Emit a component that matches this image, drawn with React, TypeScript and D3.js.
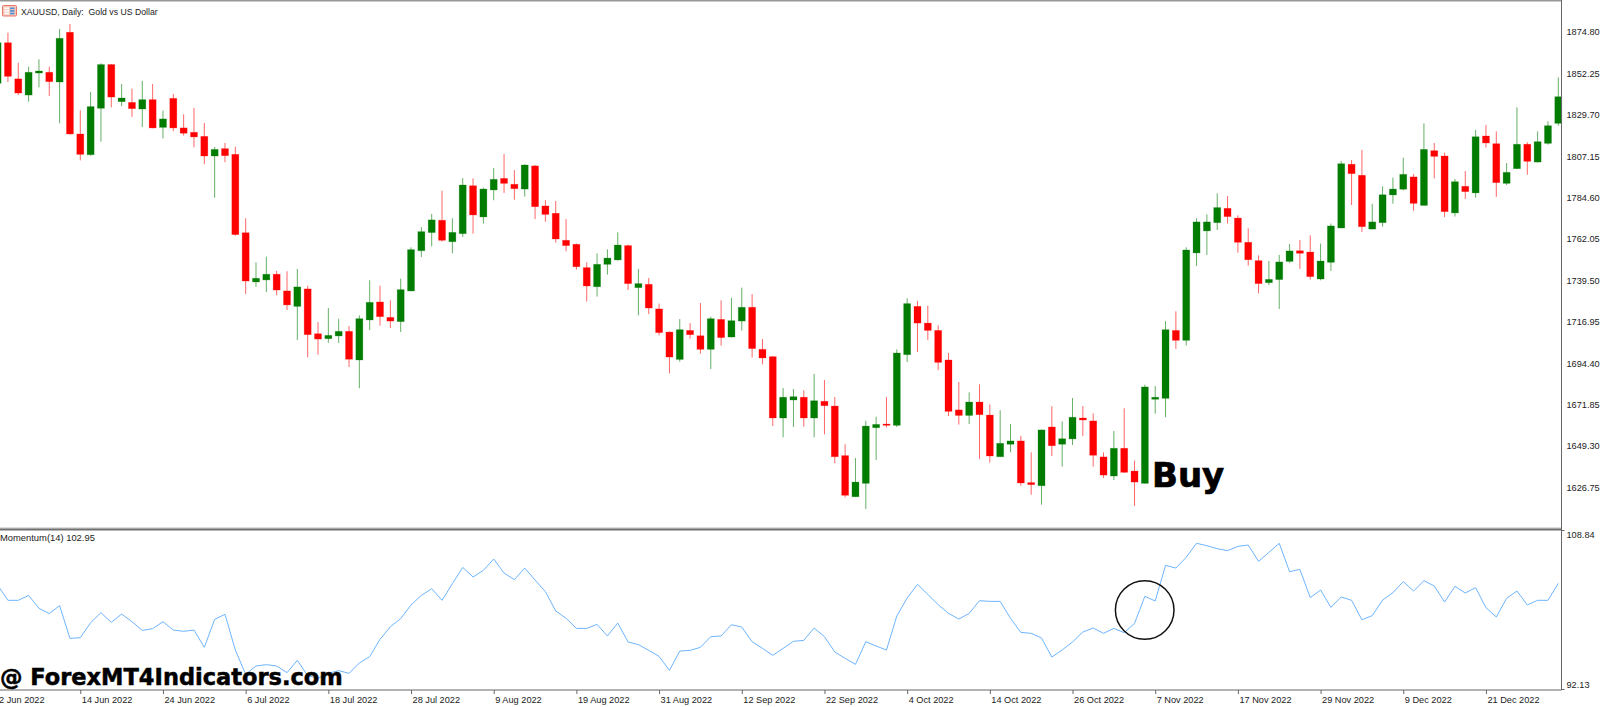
import { useEffect, useRef } from "react";
import * as d3 from "d3";

const W = 1600;
const H = 707;

// daily candles
const opens = [
  1846.8, 1868.9, 1849.2, 1840.4, 1852.4, 1852.8, 1847.5, 1874.6, 1819.2, 1807.9,
  1833.2, 1857.0, 1836.8, 1836.4, 1832.8, 1837.9, 1822.8, 1838.6, 1822.5, 1820.1,
  1817.9, 1807.2, 1811.2, 1808.1, 1765.4, 1738.6, 1739.7, 1742.8, 1733.7, 1725.3,
  1734.8, 1710.4, 1707.7, 1709.2, 1711.7, 1696.1, 1717.9, 1727.7, 1719.3, 1717.0,
  1733.7, 1755.6, 1765.5, 1772.2, 1760.5, 1764.9, 1791.0, 1774.0, 1788.7, 1795.0,
  1791.8, 1789.2, 1801.8, 1780.0, 1776.0, 1761.3, 1759.1, 1746.4, 1736.0, 1748.2,
  1750.6, 1758.4, 1735.5, 1737.3, 1723.9, 1711.3, 1696.4, 1712.2, 1709.3, 1701.9,
  1718.2, 1708.6, 1717.3, 1724.8, 1701.9, 1697.9, 1664.5, 1674.3, 1675.8, 1664.5,
  1673.6, 1671.0, 1644.0, 1621.6, 1628.9, 1659.2, 1661.2, 1660.5, 1699.0, 1725.3,
  1716.2, 1712.2, 1696.1, 1668.9, 1665.9, 1673.2, 1666.1, 1643.4, 1650.2, 1652.0,
  1629.3, 1627.6, 1659.6, 1650.2, 1653.1, 1664.5, 1662.9, 1643.3, 1632.9, 1648.0,
  1635.6, 1628.9, 1674.7, 1675.2, 1712.2, 1706.8, 1754.4, 1766.4, 1770.9, 1778.7,
  1773.4, 1760.2, 1750.2, 1738.2, 1739.9, 1749.8, 1755.6, 1754.9, 1740.2, 1749.3,
  1768.0, 1802.7, 1796.7, 1767.4, 1770.9, 1786.0, 1789.1, 1795.8, 1780.3, 1810.1,
  1807.2, 1776.2, 1790.7, 1787.1, 1818.1, 1813.9, 1792.3, 1800.3, 1813.6, 1803.9,
  1814.1, 1825.0,
];
const highs = [
  1871.3, 1874.4, 1858.0, 1855.9, 1859.9, 1855.9, 1876.4, 1879.1, 1832.1, 1842.1,
  1857.7, 1857.3, 1846.4, 1843.9, 1848.1, 1846.4, 1831.9, 1841.0, 1829.9, 1833.4,
  1825.2, 1812.1, 1814.3, 1812.3, 1773.3, 1749.3, 1752.4, 1744.6, 1744.4, 1745.7,
  1736.6, 1716.8, 1724.4, 1718.6, 1714.6, 1720.4, 1739.5, 1736.6, 1728.6, 1740.4,
  1757.5, 1768.4, 1775.6, 1788.3, 1773.3, 1795.2, 1795.0, 1790.0, 1800.7, 1808.3,
  1799.6, 1802.7, 1802.3, 1783.2, 1782.7, 1772.9, 1759.5, 1749.3, 1754.2, 1756.4,
  1765.6, 1758.9, 1745.7, 1740.8, 1726.8, 1711.7, 1718.4, 1716.2, 1727.1, 1719.7,
  1728.6, 1729.9, 1735.5, 1732.0, 1707.5, 1698.3, 1680.8, 1680.3, 1679.6, 1688.5,
  1685.2, 1675.9, 1650.2, 1642.7, 1663.0, 1665.2, 1675.9, 1701.9, 1729.7, 1728.2,
  1725.7, 1715.0, 1699.9, 1684.1, 1678.5, 1682.8, 1671.9, 1668.7, 1661.2, 1654.7,
  1645.8, 1658.1, 1670.9, 1662.7, 1675.4, 1671.0, 1667.0, 1645.8, 1657.4, 1669.8,
  1641.3, 1682.7, 1681.9, 1717.2, 1722.6, 1757.5, 1773.3, 1775.4, 1786.9, 1785.4,
  1774.9, 1767.8, 1753.1, 1750.0, 1753.3, 1759.3, 1761.5, 1764.0, 1759.5, 1770.4,
  1804.5, 1805.0, 1810.5, 1781.2, 1790.7, 1795.4, 1806.3, 1797.4, 1825.0, 1814.3,
  1809.0, 1794.7, 1799.0, 1821.4, 1824.1, 1820.6, 1803.4, 1833.7, 1814.7, 1820.6,
  1826.1, 1850.1,
];
const lows = [
  1844.6, 1847.5, 1840.4, 1836.8, 1844.6, 1839.9, 1825.0, 1818.8, 1804.8, 1807.4,
  1815.0, 1833.7, 1834.4, 1828.5, 1823.0, 1822.3, 1816.8, 1820.8, 1818.3, 1811.9,
  1802.7, 1784.5, 1803.8, 1763.8, 1732.0, 1736.0, 1733.1, 1731.3, 1723.3, 1707.0,
  1697.5, 1699.0, 1705.5, 1705.4, 1692.3, 1680.7, 1712.4, 1714.8, 1713.5, 1711.3,
  1733.5, 1752.2, 1758.0, 1760.5, 1754.2, 1763.1, 1764.9, 1770.4, 1783.1, 1787.1,
  1783.4, 1785.1, 1772.9, 1771.4, 1760.0, 1755.3, 1745.3, 1727.9, 1730.6, 1742.6,
  1750.2, 1734.2, 1720.4, 1721.1, 1709.5, 1688.8, 1695.2, 1707.7, 1699.5, 1691.2,
  1703.9, 1708.4, 1712.1, 1697.4, 1693.7, 1660.1, 1654.0, 1659.6, 1659.8, 1654.0,
  1655.6, 1639.8, 1621.3, 1621.5, 1614.9, 1641.6, 1659.4, 1659.6, 1695.0, 1700.4,
  1707.0, 1690.6, 1665.6, 1660.9, 1661.2, 1642.2, 1640.2, 1643.3, 1645.8, 1627.6,
  1622.7, 1617.3, 1643.8, 1638.0, 1649.8, 1654.7, 1638.0, 1631.8, 1630.7, 1634.7,
  1616.6, 1628.8, 1666.9, 1664.9, 1702.1, 1703.9, 1747.3, 1753.3, 1766.9, 1770.4,
  1754.6, 1747.5, 1732.4, 1736.9, 1723.9, 1749.1, 1745.7, 1739.9, 1739.5, 1744.6,
  1767.8, 1780.5, 1765.8, 1767.3, 1768.7, 1781.2, 1788.5, 1777.4, 1780.2, 1795.0,
  1774.0, 1774.2, 1783.8, 1784.5, 1811.8, 1784.9, 1791.4, 1800.1, 1797.0, 1803.7,
  1813.4, 1823.7,
];
const closes = [
  1868.9, 1850.6, 1841.5, 1852.8, 1853.5, 1847.7, 1871.3, 1819.2, 1808.1, 1834.1,
  1857.0, 1839.3, 1838.8, 1833.0, 1837.9, 1822.5, 1827.4, 1822.5, 1819.6, 1817.6,
  1807.2, 1810.8, 1807.4, 1764.4, 1739.1, 1740.6, 1742.8, 1734.2, 1726.1, 1735.9,
  1709.9, 1707.5, 1709.5, 1711.7, 1696.5, 1718.6, 1727.5, 1719.7, 1717.3, 1734.4,
  1756.2, 1766.0, 1772.4, 1761.3, 1765.6, 1791.4, 1775.1, 1789.2, 1794.5, 1792.3,
  1789.4, 1802.3, 1779.6, 1775.4, 1762.0, 1758.4, 1746.9, 1736.4, 1748.2, 1751.6,
  1758.7, 1737.7, 1737.7, 1724.4, 1711.0, 1697.7, 1712.6, 1709.9, 1701.9, 1718.6,
  1708.3, 1717.5, 1724.8, 1702.3, 1697.2, 1664.5, 1675.8, 1676.1, 1664.5, 1673.9,
  1671.2, 1643.4, 1622.4, 1629.6, 1660.1, 1661.0, 1660.5, 1699.9, 1726.8, 1716.2,
  1712.2, 1694.8, 1668.1, 1665.9, 1673.2, 1666.3, 1643.8, 1650.7, 1652.0, 1629.1,
  1628.2, 1658.0, 1649.4, 1653.2, 1664.9, 1663.4, 1644.2, 1633.4, 1648.0, 1634.9,
  1629.6, 1681.4, 1675.8, 1712.6, 1706.8, 1756.0, 1771.3, 1771.3, 1779.1, 1774.2,
  1760.2, 1750.7, 1737.7, 1740.0, 1749.5, 1755.5, 1754.2, 1741.5, 1750.0, 1769.1,
  1803.0, 1797.6, 1768.7, 1771.3, 1786.1, 1789.2, 1797.2, 1781.4, 1810.8, 1807.0,
  1776.9, 1793.2, 1787.8, 1817.7, 1814.3, 1792.7, 1798.3, 1813.6, 1804.3, 1815.0,
  1823.7, 1839.5,
];

const momentum = [
  103.06, 101.45, 101.45, 101.97, 100.61, 100.05, 100.89, 97.45, 97.52, 99.1,
  100.15, 99.13, 100.01, 99.2, 98.29, 98.47, 99.2, 98.33, 98.19, 98.33,
  96.51, 99.45, 99.98, 96.23, 93.67, 94.55, 94.69, 94.55, 93.85, 95.14,
  93.53, 93.25, 93.78, 94.06, 93.78, 94.86, 95.53, 97.35, 98.68, 99.52,
  100.96, 101.97, 102.67, 101.45, 103.2, 104.91, 103.9, 104.6, 105.79, 104.32,
  103.62, 104.84, 103.58, 102.36, 100.33, 99.56, 98.5, 98.5, 98.92, 97.7,
  99.06, 97.07, 96.79, 96.19, 95.56, 94.09, 96.12, 96.19, 96.51, 97.63,
  97.7, 98.89, 98.64, 97.1, 96.4, 95.67, 96.4, 97.14, 97.24, 98.54,
  97.63, 96.02, 95.35, 94.72, 97.1, 96.65, 96.23, 99.8, 101.69, 103.13,
  102.08, 100.99, 100.08, 99.48, 100.08, 101.41, 101.34, 101.34, 99.56, 98.08,
  97.98, 97.49, 95.49, 96.23, 97.07, 98.12, 98.54, 97.98, 98.5, 98.05,
  99.03, 101.87, 101.38, 105.12, 104.84, 105.97, 107.44, 107.19, 106.88, 106.67,
  107.12, 107.26, 105.55, 106.49, 107.44, 104.46, 104.7, 101.73, 102.53, 100.71,
  101.8, 101.45, 99.41, 99.84, 101.48, 102.25, 103.41, 102.43, 103.51, 102.95,
  101.27, 102.92, 102.22, 102.78, 100.68, 99.7, 101.66, 102.43, 100.96, 101.45,
  101.45, 103.23,
];

const priceTicks = [1874.8, 1852.25, 1829.7, 1807.15, 1784.6, 1762.05, 1739.5, 1716.95, 1694.4, 1671.85, 1649.3, 1626.75];
const momentumTicks = [108.84, 92.13];
const dateLabels = [
  "2 Jun 2022", "14 Jun 2022", "24 Jun 2022", "6 Jul 2022", "18 Jul 2022", "28 Jul 2022", "9 Aug 2022",
  "19 Aug 2022", "31 Aug 2022", "12 Sep 2022", "22 Sep 2022", "4 Oct 2022", "14 Oct 2022", "26 Oct 2022",
  "7 Nov 2022", "17 Nov 2022", "29 Nov 2022", "9 Dec 2022", "21 Dec 2022",
];
const BARS_PER_LABEL = 8;

const UP = "#007c00";
const DOWN = "#ff0000";
const AXIS = "#666";
const LABEL_FONT = "'Liberation Sans', Arial, sans-serif";
const BOLD_FONT = "'DejaVu Sans', Verdana, sans-serif";

export default function App() {
  const svgRef = useRef<SVGSVGElement>(null);

  useEffect(() => {
    if (!svgRef.current) return;
    const svg = d3.select(svgRef.current);
    svg.selectAll("*").remove();

    const AXIS_X = 1561.5;
    const x = d3.scaleLinear().domain([0, opens.length - 1]).range([-2.4, 1558.3]);
    const y = d3.scaleLinear().domain([1852.25, 1626.75]).range([73.3, 487.3]);
    const yMom = d3.scaleLinear().domain([108.84, 92.13]).range([530, 689]);

    svg.append("rect").attr("width", W).attr("height", H).attr("fill", "white");

    const bars = d3.range(opens.length);

    // candles
    const candle = svg.append("g").selectAll("g").data(bars).enter().append("g")
      .attr("fill", (i) => (closes[i] >= opens[i] ? UP : DOWN))
      .attr("stroke", (i) => (closes[i] >= opens[i] ? UP : DOWN));
    candle.append("line")
      .attr("x1", (i) => x(i))
      .attr("x2", (i) => x(i))
      .attr("y1", (i) => y(highs[i]))
      .attr("y2", (i) => y(lows[i]))
      .attr("stroke-width", 1)
      .attr("stroke-opacity", 0.6);
    candle.append("rect")
      .attr("x", (i) => x(i) - 3.5)
      .attr("width", 7)
      .attr("y", (i) => y(Math.max(opens[i], closes[i])))
      .attr("height", (i) => Math.max(1, Math.abs(y(opens[i]) - y(closes[i]))))
      .attr("stroke-width", 0.8)
      .attr("stroke-opacity", 0.3);

    // indicator line
    const line = d3.line<number>().x((_, i) => x(i)).y((d) => yMom(d));
    svg.append("path")
      .attr("d", line(momentum))
      .attr("fill", "none")
      .attr("stroke", "#6db5ff")
      .attr("stroke-width", 1);

    svg.append("circle")
      .attr("cx", 1144.7)
      .attr("cy", 610)
      .attr("r", 29.3)
      .attr("fill", "none")
      .attr("stroke", "#111")
      .attr("stroke-width", 1.5);

    // frame lines
    svg.append("rect").attr("width", AXIS_X).attr("height", 1.5).attr("fill", "#999");
    svg.append("rect").attr("y", 527.5).attr("width", AXIS_X).attr("height", 1).attr("fill", "#bbb");
    svg.append("rect").attr("y", 528.5).attr("width", AXIS_X).attr("height", 2).attr("fill", "#707070");

    // price axis
    const priceAxis = d3.axisRight(y)
      .tickValues(priceTicks)
      .tickSize(0)
      .tickPadding(5)
      .tickFormat((d) => (d as number).toFixed(2));
    const gPrice = svg.append("g").attr("transform", `translate(${AXIS_X},0)`).call(priceAxis);
    gPrice.select(".domain").remove();
    gPrice.selectAll("text")
      .attr("font-family", LABEL_FONT)
      .attr("font-size", 9.2)
      .attr("fill", "#222");

    svg.append("line")
      .attr("x1", AXIS_X).attr("x2", AXIS_X)
      .attr("y1", 0).attr("y2", 690)
      .attr("stroke", AXIS);

    // momentum axis, labels pulled inside the pane
    const momAxis = d3.axisRight(yMom)
      .tickValues(momentumTicks)
      .tickSize(3)
      .tickPadding(2)
      .tickFormat((d) => (d as number).toFixed(2));
    const gMom = svg.append("g").attr("transform", `translate(${AXIS_X},0)`).call(momAxis);
    gMom.select(".domain").remove();
    gMom.selectAll("line").attr("stroke", AXIS);
    gMom.selectAll("text")
      .attr("font-family", LABEL_FONT)
      .attr("font-size", 9.2)
      .attr("fill", "#222")
      .attr("y", (d) => ((d as number) > 100 ? 5 : -4));

    // time axis
    const timeAxis = d3.axisBottom(x)
      .tickValues(dateLabels.map((_, i) => i * BARS_PER_LABEL))
      .tickSize(4)
      .tickPadding(2)
      .tickFormat((d) => dateLabels[(d as number) / BARS_PER_LABEL]);
    const gTime = svg.append("g").attr("transform", "translate(0,690)").call(timeAxis);
    gTime.select(".domain").remove();
    gTime.selectAll("line").attr("stroke", AXIS);
    gTime.selectAll("text")
      .attr("font-family", LABEL_FONT)
      .attr("font-size", 9.2)
      .attr("fill", "#222")
      .attr("text-anchor", "start")
      .attr("x", 1)
      .attr("y", 6);
    svg.append("line")
      .attr("x1", 0).attr("x2", AXIS_X)
      .attr("y1", 690).attr("y2", 690)
      .attr("stroke", AXIS);

    // title row with the little table icon
    const icon = svg.append("g").attr("transform", "translate(2.5,5.5)");
    icon.append("rect").attr("width", 14).attr("height", 10.5).attr("rx", 1)
      .attr("fill", "#f6c9bd").attr("stroke", "#e8776a");
    icon.append("rect").attr("x", 2).attr("y", 2).attr("width", 4.5).attr("height", 1.6).attr("fill", "#fff");
    icon.append("rect").attr("x", 2).attr("y", 4.6).attr("width", 4.5).attr("height", 1.6).attr("fill", "#fff");
    icon.append("rect").attr("x", 2).attr("y", 7.2).attr("width", 4.5).attr("height", 1.6).attr("fill", "#fff");
    icon.append("rect").attr("x", 7.5).attr("y", 2).attr("width", 4.5).attr("height", 1.6).attr("fill", "#4a90d9");
    icon.append("rect").attr("x", 7.5).attr("y", 4.6).attr("width", 4.5).attr("height", 1.6).attr("fill", "#4a90d9");
    icon.append("rect").attr("x", 7.5).attr("y", 7.2).attr("width", 4.5).attr("height", 1.6).attr("fill", "#4a90d9");

    svg.append("text")
      .attr("x", 21)
      .attr("y", 15)
      .attr("font-family", LABEL_FONT)
      .attr("font-size", 8.7)
      .attr("fill", "#222")
      .style("white-space", "pre")
      .text("XAUUSD, Daily:  Gold vs US Dollar");

    svg.append("text")
      .attr("x", 0)
      .attr("y", 541)
      .attr("font-family", LABEL_FONT)
      .attr("font-size", 9.4)
      .attr("fill", "#222")
      .text("Momentum(14) 102.95");

    // overlays pasted on the screenshot
    svg.append("text")
      .attr("x", 1152)
      .attr("y", 487)
      .attr("font-family", BOLD_FONT)
      .attr("font-weight", "bold")
      .attr("font-size", 34)
      .attr("fill", "#000")
      .attr("stroke", "#000")
      .attr("stroke-width", 0.7)
      .text("Buy");

    svg.append("text")
      .attr("x", 0)
      .attr("y", 685)
      .attr("font-family", BOLD_FONT)
      .attr("font-weight", "bold")
      .attr("font-size", 22.5)
      .attr("fill", "#000")
      .attr("stroke", "#000")
      .attr("stroke-width", 0.5)
      .text("@ ForexMT4Indicators.com");
  }, []);

  return (
    <svg
      ref={svgRef}
      width={W}
      height={H}
      viewBox={`0 0 ${W} ${H}`}
      style={{ position: "fixed", left: 0, top: 0, display: "block" }}
    />
  );
}
